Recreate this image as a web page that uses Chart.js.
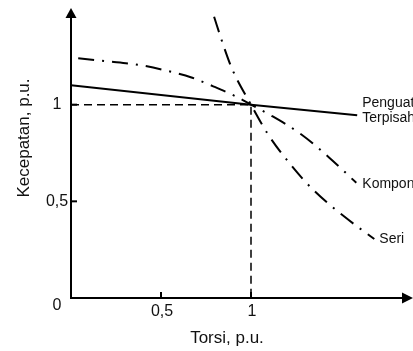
<!DOCTYPE html>
<html>
<head>
<meta charset="utf-8">
<script src="https://cdn.jsdelivr.net/npm/chart.js@4"></script>
<style>
  html, body { margin: 0; padding: 0; background: #fff; }
  canvas { display: block; }
</style>
</head>
<body>
<canvas id="chart" width="413" height="351"></canvas>
<script>
// data
const torsiSolid = [0, 1, 1.59];
const kecSolid = [1.1, 1.0, 0.945];
const torsiKompon = [0.04, 0.19, 0.39, 0.59, 0.665, 0.79, 0.915, 1.0, 1.1, 1.28, 1.435, 1.585];
const kecKompon = [1.24, 1.225, 1.204, 1.162, 1.142, 1.095, 1.043, 1.0, 0.95, 0.846, 0.726, 0.596];
const torsiSeri = [0.795, 0.84, 0.895, 1.0, 1.095, 1.22, 1.345, 1.52, 1.685];
const kecSeri = [1.455, 1.325, 1.185, 1.0, 0.846, 0.69, 0.56, 0.42, 0.305];
const torsiRef = [0, 1, 1];
const kecRef = [1, 1, 0];
const xTicks = [0.5, 1];
const xTickLabels = ['0,5', '1'];
const yTicks = [0.5, 1];
const yTickLabels = ['0,5', '1'];
const xTitle = 'Torsi, p.u.';
const yTitle = 'Kecepatan, p.u.';

function pts(xs, ys) {
    return xs.map((x, i) => ({x: x, y: ys[i]}));
}

const FONT = '"Liberation Sans", Arial, sans-serif';
const dashDot = [16, 8, 2, 8];

// axes with arrows, ticks and all the labels
const axesPlugin = {
    id: 'axes',
    afterDatasetsDraw(chart) {
        const ctx = chart.ctx;
        const xs = chart.scales.x, ys = chart.scales.y;
        const area = chart.chartArea;
        const x0 = xs.getPixelForValue(0), y0 = ys.getPixelForValue(0);
        ctx.save();
        ctx.strokeStyle = '#000';
        ctx.fillStyle = '#000';
        ctx.lineWidth = 2;
        ctx.setLineDash([]);
        // y axis
        ctx.beginPath();
        ctx.moveTo(x0, y0 + 1);
        ctx.lineTo(x0, area.top + 8);
        ctx.stroke();
        ctx.beginPath();
        ctx.moveTo(x0, area.top);
        ctx.lineTo(x0 - 5.5, area.top + 10);
        ctx.lineTo(x0 + 5.5, area.top + 10);
        ctx.closePath();
        ctx.fill();
        // x axis
        ctx.beginPath();
        ctx.moveTo(x0 - 1, y0);
        ctx.lineTo(area.right - 8, y0);
        ctx.stroke();
        ctx.beginPath();
        ctx.moveTo(area.right, y0);
        ctx.lineTo(area.right - 11, y0 - 5.5);
        ctx.lineTo(area.right - 11, y0 + 5.5);
        ctx.closePath();
        ctx.fill();
        // ticks
        ctx.lineWidth = 2;
        xTicks.forEach(v => {
            const px = xs.getPixelForValue(v);
            ctx.beginPath();
            ctx.moveTo(px, y0);
            ctx.lineTo(px, y0 - 6);
            ctx.stroke();
        });
        yTicks.forEach(v => {
            const py = ys.getPixelForValue(v);
            ctx.beginPath();
            ctx.moveTo(x0, py);
            ctx.lineTo(x0 + 6, py);
            ctx.stroke();
        });
        // tick labels
        ctx.font = '16px ' + FONT;
        ctx.fillStyle = '#111';
        ctx.textAlign = 'center';
        ctx.textBaseline = 'middle';
        xTicks.forEach((v, i) => {
            ctx.fillText(xTickLabels[i], xs.getPixelForValue(v) + 1, y0 + 14);
        });
        yTicks.forEach((v, i) => {
            ctx.fillText(yTickLabels[i], x0 - 14, ys.getPixelForValue(v));
        });
        ctx.fillText('0', x0 - 14, y0 + 8);
        // axis titles
        ctx.font = '17px ' + FONT;
        ctx.textBaseline = 'alphabetic';
        ctx.fillText(xTitle, 227, y0 + 45);
        ctx.save();
        ctx.translate(29, 138);
        ctx.rotate(-Math.PI / 2);
        ctx.fillText(yTitle, 0, 0);
        ctx.restore();
        // curve labels at the end of each curve
        ctx.font = '14px ' + FONT;
        ctx.textAlign = 'left';
        const endS = {x: xs.getPixelForValue(torsiSolid[2]), y: ys.getPixelForValue(kecSolid[2])};
        ctx.fillText('Penguat', endS.x + 5, endS.y - 8);
        ctx.fillText('Terpisah', endS.x + 5, endS.y + 7);
        const nK = torsiKompon.length - 1;
        ctx.fillText('Kompon', xs.getPixelForValue(torsiKompon[nK]) + 6, ys.getPixelForValue(kecKompon[nK]) + 5);
        const nS = torsiSeri.length - 1;
        ctx.fillText('Seri', xs.getPixelForValue(torsiSeri[nS]) + 5, ys.getPixelForValue(kecSeri[nS]) + 4);
        ctx.restore();
    }
};

new Chart(document.getElementById('chart').getContext('2d'), {
    type: 'scatter',
    data: {
        datasets: [
            {
                data: pts(torsiRef, kecRef),
                showLine: true,
                borderColor: '#000',
                borderWidth: 1.5,
                borderDash: [8, 5],
                pointRadius: 0
            },
            {
                data: pts(torsiSolid, kecSolid),
                showLine: true,
                borderColor: '#000',
                borderWidth: 2,
                pointRadius: 0
            },
            {
                data: pts(torsiKompon, kecKompon),
                showLine: true,
                borderColor: '#000',
                borderWidth: 2,
                borderDash: dashDot,
                cubicInterpolationMode: 'monotone',
                pointRadius: 0
            },
            {
                data: pts(torsiSeri, kecSeri),
                showLine: true,
                borderColor: '#000',
                borderWidth: 2,
                borderDash: dashDot,
                cubicInterpolationMode: 'monotone',
                pointRadius: 0
            }
        ]
    },
    options: {
        responsive: false,
        animation: false,
        layout: {padding: {left: 71, right: 0, top: 8, bottom: 53}},
        plugins: {legend: {display: false}, tooltip: {enabled: false}},
        scales: {
            x: {type: 'linear', min: 0, max: 1.9, display: false},
            y: {type: 'linear', min: 0, max: 1.5, display: false}
        }
    },
    plugins: [axesPlugin]
});
</script>
</body>
</html>
